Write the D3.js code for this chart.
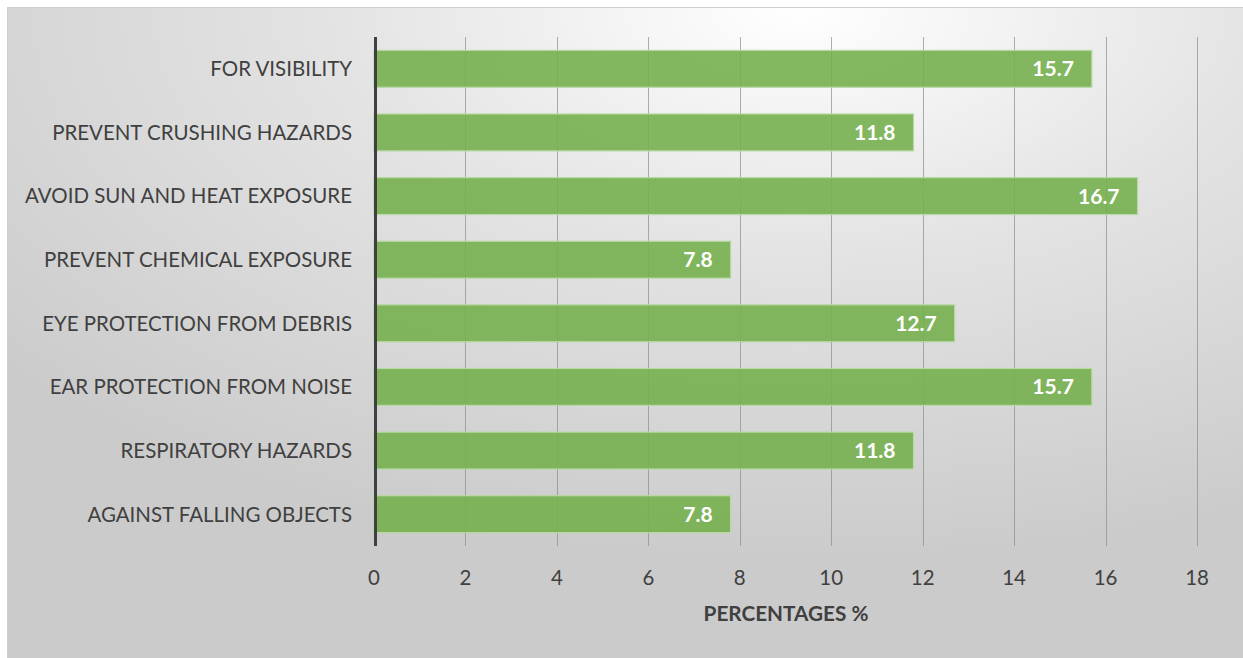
<!DOCTYPE html>
<html>
<head>
<meta charset="utf-8">
<script src="https://cdn.jsdelivr.net/npm/d3@7"></script>
<style>
html,body{margin:0;padding:0;background:#ffffff;}
svg{display:block;}
</style>
</head>
<body>
<svg id="chart" width="1243" height="658"></svg>
<script>
const categories = [
  "FOR VISIBILITY",
  "PREVENT CRUSHING HAZARDS",
  "AVOID SUN AND HEAT EXPOSURE",
  "PREVENT CHEMICAL EXPOSURE",
  "EYE PROTECTION FROM DEBRIS",
  "EAR PROTECTION FROM NOISE",
  "RESPIRATORY HAZARDS",
  "AGAINST FALLING OBJECTS"
];
const values = [15.7, 11.8, 16.7, 7.8, 12.7, 15.7, 11.8, 7.8];
const xTicks = [0, 2, 4, 6, 8, 10, 12, 14, 16, 18];
const axisTitle = "PERCENTAGES %";

const svg = d3.select("#chart");
const W = 1243, H = 658;
const font = "Lato, 'Open Sans', sans-serif";

const defs = svg.append("defs");
const grad = defs.append("radialGradient")
  .attr("id", "bg")
  .attr("cx", "0.64").attr("cy", "0.0").attr("r", "0.85")
  .attr("fx", "0.64").attr("fy", "0.0");
grad.append("stop").attr("offset", "0").attr("stop-color", "#ffffff");
grad.append("stop").attr("offset", "0.45").attr("stop-color", "#e3e3e3");
grad.append("stop").attr("offset", "1").attr("stop-color", "#cbcbcb");

svg.append("rect")
  .attr("x", 7.5).attr("y", 7.5).attr("width", W - 7).attr("height", H - 7)
  .attr("fill", "url(#bg)").attr("stroke", "#cfcfcf").attr("stroke-width", 1);

const x = d3.scaleLinear().domain([0, 18]).range([374, 1197]);
const y = d3.scaleBand().domain(categories).range([37, 546]).paddingInner(0.42).paddingOuter(0.21);

// gridlines
svg.append("g").selectAll("line").data(xTicks.filter(d => d > 0)).join("line")
  .attr("x1", d => Math.round(x(d)) + 0.5).attr("x2", d => Math.round(x(d)) + 0.5)
  .attr("y1", 37).attr("y2", 546)
  .attr("stroke", "#8c8c8c").attr("stroke-width", 1).attr("stroke-opacity", 0.7);

// bars
svg.append("g").selectAll("rect").data(values).join("rect")
  .attr("x", x(0))
  .attr("y", (d, i) => y(categories[i]))
  .attr("width", d => x(d) - x(0))
  .attr("height", y.bandwidth())
  .attr("fill", "#76b04f").attr("fill-opacity", 0.9)
  .attr("stroke", "#b8d9a4").attr("stroke-width", 1.2);

// value labels
svg.append("g").selectAll("text").data(values).join("text")
  .attr("x", d => x(d) - 18)
  .attr("y", (d, i) => y(categories[i]) + y.bandwidth() / 2)
  .attr("dy", "0.36em")
  .attr("text-anchor", "end")
  .attr("font-family", font).attr("font-weight", "bold").attr("font-size", 21)
  .attr("fill", "#ffffff")
  .text(d => d.toFixed(1));

// y-axis line
svg.append("line")
  .attr("x1", 375.5).attr("x2", 375.5).attr("y1", 37).attr("y2", 546)
  .attr("stroke", "#404040").attr("stroke-width", 3);

// category labels
const catG = svg.append("g");
const catLabels = catG.selectAll("text").data(categories).join("text")
  .attr("x", 352)
  .attr("y", d => y(d) + y.bandwidth() / 2)
  .attr("dy", "0.36em")
  .attr("text-anchor", "end")
  .attr("font-family", font).attr("font-size", 20)
  .attr("fill", "#404040")
  .text(d => d);
let maxW = 0;
catLabels.each(function(){ maxW = Math.max(maxW, this.getComputedTextLength()); });
const catSize = 20 * 327 / maxW;
catLabels.attr("font-size", catSize);

// x tick labels
svg.append("g").selectAll("text").data(xTicks).join("text")
  .attr("x", d => x(d))
  .attr("y", 578)
  .attr("dy", "0.36em")
  .attr("text-anchor", "middle")
  .attr("font-family", font).attr("font-size", catSize)
  .attr("fill", "#404040")
  .text(d => d);

// axis title
const title = svg.append("text")
  .attr("x", 786).attr("y", 614).attr("dy", "0.36em")
  .attr("text-anchor", "middle")
  .attr("font-family", font).attr("font-weight", "bold").attr("font-size", 20)
  .attr("fill", "#404040")
  .text(axisTitle);
const tw = title.node().getComputedTextLength();
title.attr("font-size", 20 * 165 / tw);
</script>
</body>
</html>
